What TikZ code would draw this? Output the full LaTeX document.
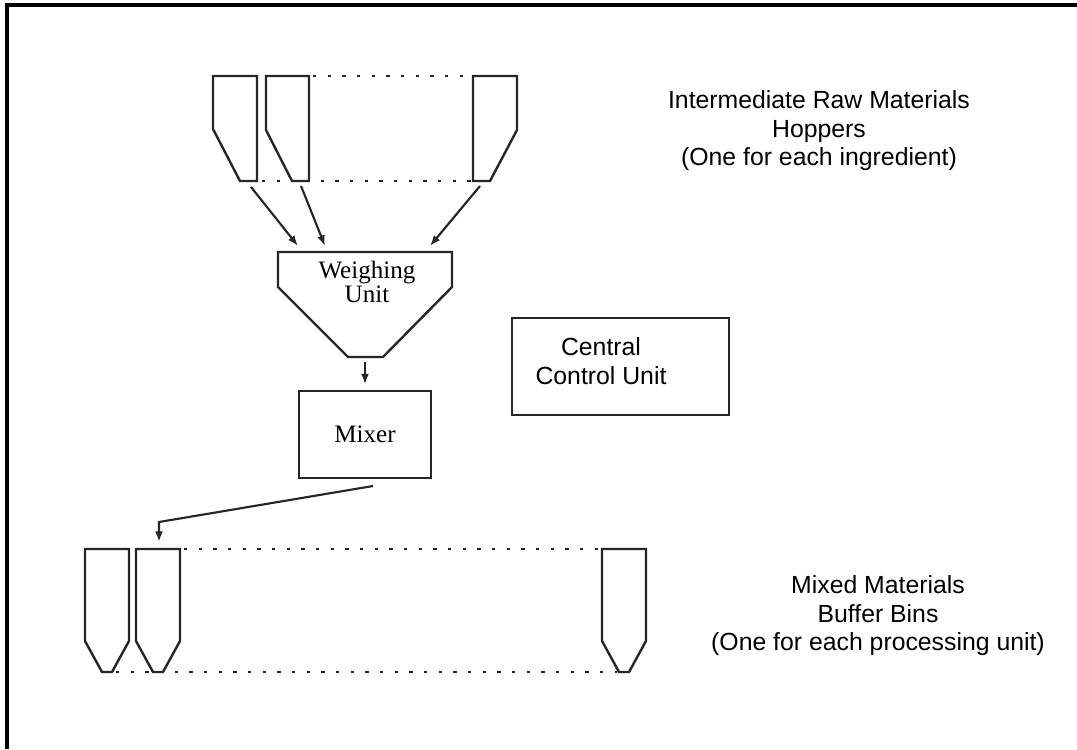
\documentclass[tikz,border=0pt]{standalone}
\usepackage{fontspec}
\setmainfont{Liberation Serif}
\setsansfont{Liberation Sans}
\usetikzlibrary{arrows.meta,calc}
\tikzset{
  vessel/.style={draw=black!85,line width=1.8pt,line join=miter},
  dots/.style={draw=black!85,line width=2pt,dash pattern=on 2.4pt off 8.6pt},
  arr/.style={draw=black!85,line width=1.6pt,-{Latex[length=8pt,width=6pt]}},
  sanslabel/.style={font=\sffamily\fontsize{18.6}{21.4}\selectfont,align=center,inner sep=0pt},
  seriflabel/.style={font=\rmfamily\fontsize{18.8}{18}\selectfont,align=center,inner sep=0pt},
  boxnode/.style={draw=black!85,line width=1.8pt,inner sep=0pt}
}
\begin{document}
\begin{tikzpicture}[x=0.75pt,y=-0.75pt]
\useasboundingbox (0,0) rectangle (1077,749);
% frame
\draw[line width=2.4pt] (7,749) -- (7,5) -- (1077,5);
% top hoppers
\draw[vessel] (213,76) -- (257,76) -- (257,181) -- (240,181) -- (213,129) -- cycle;
\draw[vessel] (266,76) -- (309,76) -- (309,181) -- (292,181) -- (266,130) -- cycle;
\draw[vessel] (473,76) -- (517,76) -- (517,130) -- (490,181) -- (473,181) -- cycle;
\draw[dots] (313,76) -- (471,76);
\draw[dots] (262,181) -- (471,181);
\coordinate (h1) at (251,187);
\coordinate (h2) at (301,186);
\coordinate (h3) at (480,186);
% weighing unit
\draw[vessel] (278,252) -- (452,252) -- (452,287) -- (383,357) -- (348,357) -- (278,287) -- cycle;
\node[seriflabel] (wu) at (367,282) {Weighing\\Unit};
\coordinate (w1) at (298,246);
\coordinate (w2) at (325,246);
\coordinate (w3) at (430,246);
\coordinate (wb) at (365,362);
\draw[arr] (h1) -- (w1);
\draw[arr] (h2) -- (w2);
\draw[arr] (h3) -- (w3);
% mixer
\node[boxnode,minimum width=99pt,minimum height=65.25pt,font=\rmfamily\fontsize{18.8}{18}\selectfont] (mixer) at (365,434.5) {Mixer};
\draw[arr,shorten >=4pt] (wb) -- (mixer.north);
% central control unit
\node[boxnode,minimum width=162.75pt,minimum height=72.75pt] (ccu) at (620.5,366.5) {};
\node[sanslabel] (ccut) at (601,361) {Central\\Control Unit};
% labels
\node[sanslabel] (lab1) at (819,131) {Intermediate Raw Materials\\Hoppers\\(One for each ingredient)};
\node[sanslabel] (lab2) at (878,616) {Mixed Materials\\Buffer Bins\\(One for each processing unit)};
% bottom bins
\draw[vessel] (85,549) -- (129,549) -- (129,641) -- (112,672) -- (102,672) -- (85,641) -- cycle;
\draw[vessel] (136,549) -- (180,549) -- (180,641) -- (163,672) -- (153,672) -- (136,641) -- cycle;
\draw[vessel] (602,549) -- (646,549) -- (646,641) -- (629,672) -- (619,672) -- (602,641) -- cycle;
\draw[dots] (184,549) -- (600,549);
\draw[dots] (116,672) -- (617,672);
\coordinate (mo) at (373,486);
\coordinate (bend) at (159,522);
\coordinate (b2) at (159,542);
\draw[arr] (mo) -- (bend) -- (b2);
\end{tikzpicture}
\end{document}
